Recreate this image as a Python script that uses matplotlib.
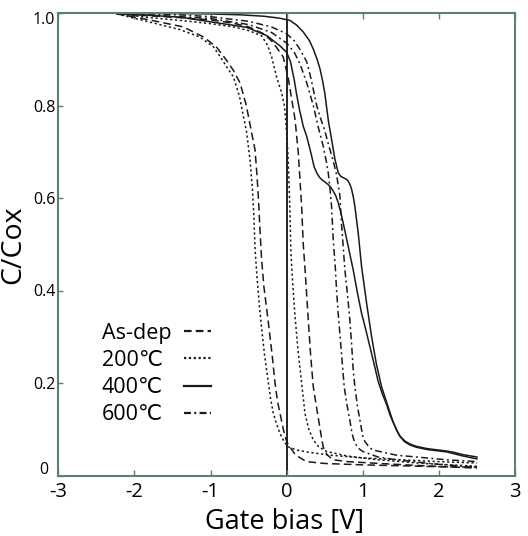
import matplotlib
matplotlib.use("Agg")
import matplotlib.pyplot as plt
from matplotlib.transforms import ScaledTranslation

plt.rcParams['font.family'] = ['Open Sans', 'DejaVu Sans']
plt.rcParams['lines.scale_dashes'] = False

# ---------------- data ----------------
asdep_a_x = [-2.23, -1.8, -1.36, -1.09, -0.92, -0.80, -0.70, -0.61, -0.53, -0.46, -0.416, -0.39, -0.37,
             -0.35, -0.33, -0.30, -0.27, -0.24, -0.19, -0.153, -0.12, -0.088, -0.05, -0.022, 0.01, 0.043,
             0.10, 0.15, 0.26, 0.5, 1.0, 1.5, 2.0, 2.5]
asdep_a_c = [0.998, 0.985, 0.970, 0.948, 0.926, 0.900, 0.876, 0.848, 0.80, 0.741, 0.705, 0.65, 0.597,
             0.53, 0.47, 0.41, 0.37, 0.33, 0.26, 0.20, 0.16, 0.135, 0.105, 0.084, 0.07, 0.062,
             0.048, 0.041, 0.030, 0.026, 0.023, 0.021, 0.019, 0.018]

asdep_b_x = [-2.23, -1.8, -1.4, -1.0, -0.7, -0.5, -0.3, -0.2, -0.13, -0.045, 0.02, 0.07, 0.11, 0.153,
             0.175, 0.197, 0.218, 0.24, 0.284, 0.315, 0.35, 0.39, 0.415, 0.45, 0.48, 0.53, 0.61, 0.8,
             1.22, 1.8, 2.5]
asdep_b_c = [0.998, 0.994, 0.99, 0.985, 0.978, 0.97, 0.955, 0.94, 0.925, 0.905, 0.86, 0.81, 0.77, 0.698,
             0.64, 0.582, 0.50, 0.45, 0.337, 0.26, 0.192, 0.15, 0.125, 0.09, 0.062, 0.045, 0.034, 0.030,
             0.026, 0.021, 0.016]

t200_a_x = [-2.23, -1.79, -1.40, -1.14, -0.963, -0.85, -0.787, -0.70, -0.62, -0.525, -0.48, -0.45, -0.43,
            -0.415, -0.39, -0.36, -0.33, -0.29, -0.24, -0.21, -0.176, -0.13, -0.088, -0.04, 0.02, 0.13,
            0.3, 0.57, 1.0, 1.5, 2.0, 2.5]
t200_a_c = [0.998, 0.980, 0.964, 0.948, 0.927, 0.90, 0.883, 0.862, 0.82, 0.741, 0.68, 0.62, 0.56,
            0.489, 0.43, 0.37, 0.32, 0.26, 0.20, 0.165, 0.135, 0.11, 0.091, 0.075, 0.062, 0.055,
            0.050, 0.044, 0.038, 0.034, 0.030, 0.027]

t200_b_x = [-2.23, -1.8, -1.4, -1.0, -0.7, -0.5, -0.33, -0.25, -0.197, -0.13, -0.07, -0.03, -0.013, 0.0,
            0.015, 0.03, 0.045, 0.055, 0.07, 0.09, 0.11, 0.15, 0.197, 0.24, 0.29, 0.35, 0.42, 0.525,
            0.8, 1.2, 1.8, 2.5]
t200_b_c = [0.998, 0.99, 0.984, 0.977, 0.97, 0.962, 0.951, 0.93, 0.905, 0.86, 0.83, 0.80, 0.77, 0.741,
            0.70, 0.64, 0.56, 0.489, 0.44, 0.39, 0.344, 0.27, 0.20, 0.135, 0.10, 0.077, 0.062, 0.052,
            0.042, 0.034, 0.026, 0.020]

t400_a_x = [-2.23, -1.5, -1.0, -0.6, -0.3, -0.1, 0.043, 0.13, 0.218, 0.30, 0.35, 0.40, 0.437, 0.47,
            0.503, 0.525, 0.55, 0.59, 0.634, 0.677, 0.71, 0.743, 0.78, 0.808, 0.835, 0.853, 0.875,
            0.896, 0.94, 0.984, 1.05, 1.115, 1.18, 1.247, 1.31, 1.36, 1.40, 1.45, 1.49, 1.55, 1.62,
            1.706, 1.85, 2.0, 2.1, 2.2, 2.32, 2.5]
t400_a_c = [0.999, 0.999, 0.998, 0.996, 0.993, 0.989, 0.984, 0.974, 0.959, 0.94, 0.922, 0.90, 0.88, 0.855,
            0.825, 0.796, 0.765, 0.727, 0.684, 0.655, 0.647, 0.644, 0.641, 0.637, 0.628, 0.619, 0.603,
            0.582, 0.525, 0.452, 0.373, 0.301, 0.24, 0.192, 0.16, 0.135, 0.115, 0.097, 0.085, 0.075, 0.068,
            0.063, 0.058, 0.055, 0.053, 0.050, 0.045, 0.040]

t400_b_x = [-2.23, -1.8, -1.4, -0.963, -0.525, -0.26, -0.088, 0.0, 0.05, 0.10, 0.13, 0.17, 0.218, 0.26,
            0.30, 0.328, 0.36, 0.394, 0.43, 0.459, 0.50, 0.546, 0.58, 0.612, 0.645, 0.677, 0.71, 0.743,
            0.808, 0.874, 0.93, 0.984, 1.04, 1.093, 1.15, 1.2, 1.26, 1.31, 1.36, 1.40, 1.45, 1.49, 1.55,
            1.62, 1.706, 1.85, 2.0, 2.1, 2.2, 2.32, 2.5]
t400_b_c = [0.998, 0.995, 0.991, 0.98, 0.969, 0.951, 0.929, 0.915, 0.895, 0.855, 0.825, 0.79, 0.755, 0.735,
            0.71, 0.691, 0.668, 0.655, 0.645, 0.640, 0.635, 0.629, 0.623, 0.615, 0.605, 0.590, 0.57, 0.546,
            0.496, 0.445, 0.395, 0.351, 0.315, 0.279, 0.24, 0.205, 0.175, 0.155, 0.13, 0.115, 0.096, 0.084,
            0.073, 0.066, 0.061, 0.056, 0.053, 0.051, 0.047, 0.042, 0.036]

t600_a_x = [-2.23, -1.5, -1.0, -0.5, -0.2, 0.0, 0.1, 0.175, 0.262, 0.35, 0.42, 0.48, 0.52, 0.546, 0.57,
            0.59, 0.612, 0.64, 0.656, 0.677, 0.72, 0.756, 0.79, 0.83, 0.86, 0.896, 0.95, 1.0, 1.2, 1.44,
            2.0, 2.5]
t600_a_c = [0.998, 0.993, 0.988, 0.975, 0.958, 0.935, 0.915, 0.89, 0.85, 0.80, 0.75, 0.712, 0.68, 0.655,
            0.62, 0.582, 0.51, 0.448, 0.40, 0.351, 0.265, 0.192, 0.155, 0.12, 0.09, 0.07, 0.058, 0.052,
            0.04, 0.034, 0.024, 0.018]

t600_b_x = [-2.23, -1.5, -1.0, -0.5, -0.2, 0.0, 0.1, 0.18, 0.262, 0.31, 0.35, 0.394, 0.45, 0.503, 0.55,
            0.612, 0.656, 0.70, 0.72, 0.745, 0.765, 0.80, 0.83, 0.855, 0.874, 0.896, 0.93, 0.962, 1.0,
            1.03, 1.09, 1.137, 1.44, 2.1, 2.5]
t600_b_c = [0.999, 0.997, 0.992, 0.982, 0.97, 0.955, 0.94, 0.92, 0.895, 0.865, 0.835, 0.80, 0.77, 0.745,
            0.715, 0.68, 0.65, 0.604, 0.546, 0.49, 0.445, 0.39, 0.337, 0.28, 0.229, 0.192, 0.15, 0.12,
            0.085, 0.073, 0.06, 0.055, 0.044, 0.034, 0.030]

legend_labels = ['As-dep', '200\u2103', '400\u2103', '600\u2103']
x_ticks = [-3, -2, -1, 0, 1, 2, 3]
y_ticks = [0, 0.2, 0.4, 0.6, 0.8, 1.0]
y_tick_labels = ['0', '0.2', '0.4', '0.6', '0.8', '1.0']

# ---------------- styles ----------------
frame_col = '#5b7f7e'
line_col = '#1a1a1a'
lw = 1.1
ls_dash = (0, (5.5, 3.0))
ls_dot = (0, (1.6, 1.9))
ls_solid = '-'
ls_dashdot = (0, (5.0, 2.4, 1.4, 2.4))

W, H, DPI = 528, 536, 100
fig = plt.figure(figsize=(W / DPI, H / DPI), dpi=DPI)
ax = fig.add_axes([58.3 / W, 1 - 475.5 / H, (515 - 58.3) / W, (475.5 - 13) / H])

ax.axvline(0, color='#111111', lw=1.3, zorder=1)

h_asdep, = ax.plot(asdep_a_x, asdep_a_c, color=line_col, lw=lw, ls=ls_dash)
ax.plot(asdep_b_x, asdep_b_c, color=line_col, lw=lw, ls=ls_dash)
h_200, = ax.plot(t200_a_x, t200_a_c, color=line_col, lw=lw, ls=ls_dot)
ax.plot(t200_b_x, t200_b_c, color=line_col, lw=lw, ls=ls_dot)
h_400, = ax.plot(t400_a_x, t400_a_c, color=line_col, lw=lw, ls=ls_solid)
ax.plot(t400_b_x, t400_b_c, color=line_col, lw=lw, ls=ls_solid)
h_600, = ax.plot(t600_a_x, t600_a_c, color=line_col, lw=lw, ls=ls_dashdot)
ax.plot(t600_b_x, t600_b_c, color=line_col, lw=lw, ls=ls_dashdot)

ax.set_xlim(-3, 3)
ax.set_ylim(0, 1.0)
ax.set_xticks(x_ticks)
ax.set_xticklabels([str(v) for v in x_ticks])
ax.set_yticks(y_ticks)
ax.set_yticklabels(y_tick_labels)

for s in ax.spines.values():
    s.set_color(frame_col)
    s.set_linewidth(1.5)

ax.tick_params(axis='x', direction='in', length=4.3, width=1.0, color=frame_col,
               top=True, bottom=True, labelsize=14.5, pad=5)
ax.tick_params(axis='y', direction='in', length=3.6, width=1.0, color=frame_col,
               left=True, right=False, labelsize=11.5, pad=10.3)
for lab in ax.get_yticklabels():
    lab.set_horizontalalignment('center')

# small vertical nudges of end labels, as in the reference
ylabs = ax.get_yticklabels()
ylabs[0].set_transform(ylabs[0].get_transform() + ScaledTranslation(0, 7 / 72 * 0.72, fig.dpi_scale_trans))
ylabs[-1].set_transform(ylabs[-1].get_transform() + ScaledTranslation(0, -5.3 / 72 * 0.72, fig.dpi_scale_trans))

ax.set_xlabel('Gate bias [V]', fontsize=19.5, va='center')
ax.xaxis.set_label_coords(0.496, -0.1)
ax.set_ylabel('C/Cox', fontsize=20.5, va='center')
ax.yaxis.set_label_coords(-0.098, 0.5)

leg = ax.legend([h_asdep, h_200, h_400, h_600], legend_labels, loc='upper left',
                bbox_to_anchor=(101.7 / W, 1 - 323 / H), bbox_transform=fig.transFigure,
                frameon=False, markerfirst=False, fontsize=15.5, handlelength=1.24,
                handletextpad=0.6, labelspacing=0.28, borderpad=0, borderaxespad=0)
for ln in leg.get_lines():
    ln.set_linewidth(1.6)

# left-align the legend texts while keeping the handles in one column
fig.canvas.draw()
renderer = fig.canvas.get_renderer()
texts = leg.get_texts()
widths = [t.get_window_extent(renderer).width for t in texts]
maxw = max(widths)
rows = leg._legend_handle_box.get_children()[0].get_children()
for row, w in zip(rows, widths):
    row.sep = row.sep + (maxw - w) * 72 / DPI

fig.savefig('out.png', dpi=DPI)
